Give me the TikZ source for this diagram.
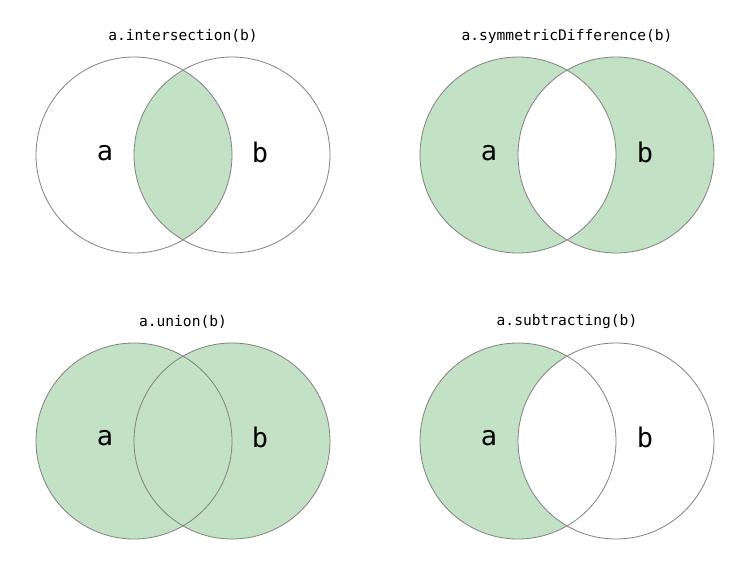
\documentclass[tikz,border=0pt]{standalone}
\usepackage{fontspec}
\setmonofont{DejaVu Sans Mono}
\definecolor{setfill}{RGB}{194,225,197}
\definecolor{ringline}{RGB}{130,130,130}
\begin{document}
\begin{tikzpicture}[x=1pt,y=-1pt,
  ring/.style={draw=ringline,line width=0.8pt},
  title/.style={font=\ttfamily\fontsize{14.6}{16}\selectfont,text=black},
  setlabel/.style={font=\ttfamily\fontsize{27}{30}\selectfont,text=black}]
\useasboundingbox[fill=white] (0,0) rectangle (731,573);
\def\R{98}
% ---- top-left: intersection
\begin{scope}
  \clip (134,155) circle (\R);
  \fill[setfill] (232,155) circle (\R);
\end{scope}
\draw[ring] (134,155) circle (\R);
\draw[ring] (232,155) circle (\R);
\node[title] (t1) at (183,36) {a.intersection(b)};
\node[setlabel] (a1) at (105,153) {a};
\node[setlabel] (b1) at (260,152) {b};
% ---- top-right: symmetric difference
\fill[setfill,even odd rule] (518,155) circle (\R) (616,155) circle (\R);
\draw[ring] (518,155) circle (\R);
\draw[ring] (616,155) circle (\R);
\node[title] (t2) at (567,36) {a.symmetricDifference(b)};
\node[setlabel] (a2) at (489,153) {a};
\node[setlabel] (b2) at (645,152) {b};
% ---- bottom-left: union
\fill[setfill] (134,441) circle (\R) (232,441) circle (\R);
\draw[ring] (134,441) circle (\R);
\draw[ring] (232,441) circle (\R);
\node[title] (t3) at (183,322) {a.union(b)};
\node[setlabel] (a3) at (105,438) {a};
\node[setlabel] (b3) at (260,437) {b};
% ---- bottom-right: subtracting
\fill[setfill] (518,441) circle (\R);
\fill[white] (616,441) circle (\R);
\draw[ring] (518,441) circle (\R);
\draw[ring] (616,441) circle (\R);
\node[title] (t4) at (567,322) {a.subtracting(b)};
\node[setlabel] (a4) at (489,438) {a};
\node[setlabel] (b4) at (645,437) {b};
\end{tikzpicture}
\end{document}
